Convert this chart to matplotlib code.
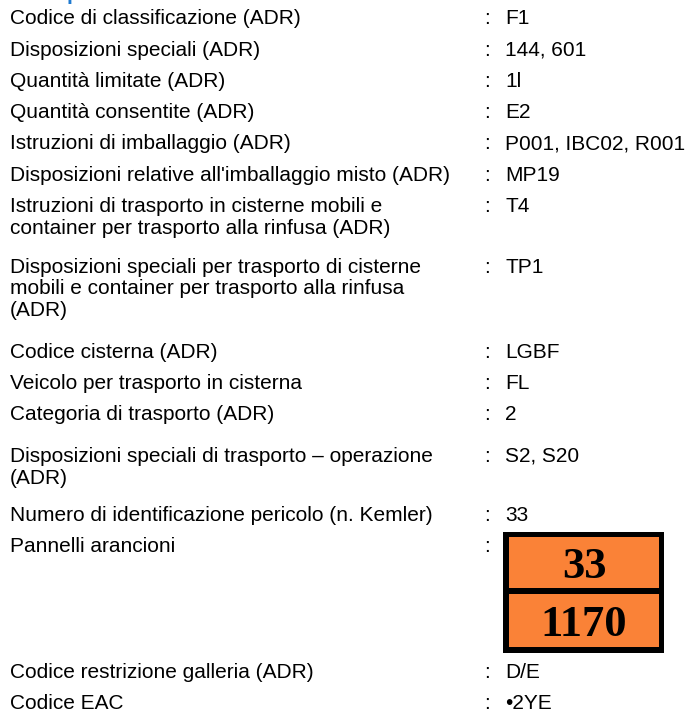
import matplotlib.pyplot as plt
from matplotlib.patches import Rectangle

# ADR transport info rows (label, value)
labels = [
    "Codice di classificazione (ADR)",
    "Disposizioni speciali (ADR)",
    "Quantità limitate (ADR)",
    "Quantità consentite (ADR)",
    "Istruzioni di imballaggio (ADR)",
    "Disposizioni relative all'imballaggio misto (ADR)",
    "Istruzioni di trasporto in cisterne mobili e\ncontainer per trasporto alla rinfusa (ADR)",
    "Disposizioni speciali per trasporto di cisterne\nmobili e container per trasporto alla rinfusa\n(ADR)",
    "Codice cisterna (ADR)",
    "Veicolo per trasporto in cisterna",
    "Categoria di trasporto (ADR)",
    "Disposizioni speciali di trasporto \u2013 operazione\n(ADR)",
    "Numero di identificazione pericolo (n. Kemler)",
    "Pannelli arancioni",
    "Codice restrizione galleria (ADR)",
    "Codice EAC",
]
values = [
    "F1", "144, 601", "1l", "E2", "P001, IBC02, R001", "MP19", "T4", "TP1",
    "LGBF", "FL", "2", "S2, S20", "33", None, "D/E", "\u20222YE",
]
panel_top = "33"
panel_bottom = "1170"

# layout (pixels, top-down)
W, H = 687, 712
row_y = [17, 49, 80, 111, 142, 174, 205, 266, 351, 382, 413, 455, 514, 545, 671, 702]
line_h = 21.5
x_label, x_colon, x_value = 10, 484, 505
fs = 15

fig = plt.figure(figsize=(W / 100, H / 100), dpi=100)
ax = fig.add_axes([0, 0, 1, 1])
ax.set_xlim(0, W)
ax.set_ylim(H, 0)
ax.axis('off')

font = dict(family='Liberation Sans', fontsize=fs, color='black', va='baseline')

# blue heading, almost entirely cut off at the top edge
ax.text(24, -0.5, "Trasporto via terra", family='Liberation Sans', fontsize=fs,
        fontweight='bold', color='#1f7ad0', va='baseline')

for lab, val, y in zip(labels, values, row_y):
    for k, line in enumerate(lab.split("\n")):
        ax.text(x_label, y + 7 + k * line_h, line, **font)
    ax.text(x_colon, y + 7, ":", **font)
    if val is not None:
        ax.text(x_value, y + 7, val, **font)

# orange hazard panel
ax.add_patch(Rectangle((503, 532), 161, 121, facecolor='black', edgecolor='none'))
ax.add_patch(Rectangle((509, 537), 150, 51, facecolor='#fa8237', edgecolor='none'))
ax.add_patch(Rectangle((509, 594), 150, 53, facecolor='#fa8237', edgecolor='none'))
ax.text(584, 562, panel_top, family='Liberation Serif', fontweight='bold',
        fontsize=32, ha='center', va='center_baseline')
ax.text(584, 621, panel_bottom, family='Liberation Serif', fontweight='bold',
        fontsize=32, ha='center', va='center_baseline')

fig.savefig('out.png', dpi=100)
